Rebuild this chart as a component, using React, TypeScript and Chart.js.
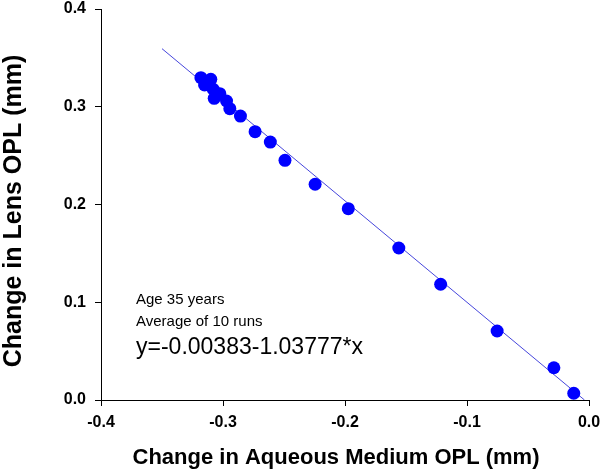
import React, { useEffect, useRef } from "react";
import { Chart, registerables } from "chart.js";

Chart.register(...registerables);

// Measured points: change in aqueous medium OPL (mm) vs change in lens OPL (mm)
const aqueousOPL = [
  -0.3181, -0.31, -0.3151, -0.308, -0.3026, -0.3072, -0.2971, -0.2944, -0.2857,
  -0.2737, -0.2612, -0.2492, -0.2245, -0.1973, -0.1559, -0.1216, -0.0753, -0.0288, -0.0125,
];
const lensOPL = [
  0.3297, 0.3281, 0.3223, 0.3179, 0.3134, 0.3086, 0.3059, 0.298, 0.2905,
  0.2745, 0.2639, 0.2452, 0.2207, 0.1957, 0.1555, 0.1184, 0.0706, 0.033, 0.0069,
];

// Fitted line endpoints (y = -0.00383 - 1.03777*x)
const fitX = [-0.35, -0.0037];
const fitY = [0.3594, 0.0];

const xTicks = [-0.4, -0.3, -0.2, -0.1, 0.0];
const yTicks = [0.0, 0.1, 0.2, 0.3, 0.4];

const notes = ["Age 35 years", "Average of 10 runs", "y=-0.00383-1.03777*x"];
const yTitle = "Change in Lens OPL (mm)";
const xTitle = "Change in Aqueous Medium OPL (mm)";

const FONT = '"Liberation Sans", Arial, sans-serif';

export default function App() {
  const ref = useRef<HTMLCanvasElement | null>(null);

  useEffect(() => {
    if (!ref.current) return;
    const notePlugin = {
      id: "notes",
      afterDraw(chart: any) {
        const ctx = chart.ctx;
        ctx.save();
        ctx.fillStyle = "#000";
        ctx.textAlign = "left";
        ctx.textBaseline = "middle";
        ctx.font = `15px ${FONT}`;
        ctx.fillText(notes[0], 136, 300);
        ctx.fillText(notes[1], 136, 322);
        ctx.font = `23px ${FONT}`;
        ctx.fillText(notes[2], 136, 348);
        // x-axis title
        ctx.textAlign = "center";
        ctx.font = `bold 22px ${FONT}`;
        ctx.fillText(xTitle, 336, 458);
        // y-axis title
        ctx.translate(14, 211);
        ctx.rotate(-Math.PI / 2);
        ctx.font = `bold 25px ${FONT}`;
        ctx.fillText(yTitle, 0, 0);
        ctx.restore();
      },
    };

    const chart = new Chart(ref.current, {
      type: "scatter",
      data: {
        datasets: [
          {
            label: "data",
            data: aqueousOPL.map((x, i) => ({ x, y: lensOPL[i] })),
            backgroundColor: "#0000ff",
            borderColor: "#0000ff",
            borderWidth: 0,
            pointRadius: 6.5,
            order: 0,
          },
          {
            label: "fit",
            type: "line",
            data: fitX.map((x, i) => ({ x, y: fitY[i] })),
            borderColor: "#4646dc",
            borderWidth: 1,
            pointRadius: 0,
            fill: false,
            order: 1,
          } as any,
        ],
      },
      options: {
        animation: false,
        responsive: false,
        maintainAspectRatio: false,
        layout: { padding: { top: 9, right: 11, left: 0, bottom: 0 } },
        plugins: { legend: { display: false }, tooltip: { enabled: false } },
        scales: {
          x: {
            type: "linear",
            min: -0.4,
            max: 0,
            afterBuildTicks: (s: any) => {
              s.ticks = xTicks.map((v) => ({ value: v }));
            },
            afterFit: (s: any) => {
              s.height = 71;
              s.paddingLeft = 0;
              s.paddingRight = 0;
            },
            ticks: {
              color: "#000",
              font: { family: FONT, size: 16, weight: "bold" },
              padding: 7,
              maxRotation: 0,
              callback: (v: any) => Number(v).toFixed(1),
            },
            grid: { drawOnChartArea: false, drawTicks: true, tickLength: 6, color: "#000", lineWidth: 1 },
            border: { display: true, color: "#000", width: 1 },
            title: { display: false },
          },
          y: {
            type: "linear",
            min: 0,
            max: 0.4,
            afterBuildTicks: (s: any) => {
              s.ticks = yTicks.map((v) => ({ value: v }));
            },
            afterFit: (s: any) => {
              s.width = 101;
              s.paddingTop = 0;
              s.paddingBottom = 0;
            },
            ticks: {
              color: "#000",
              font: { family: FONT, size: 16, weight: "bold" },
              padding: 9,
              callback: (v: any) => Number(v).toFixed(1),
            },
            grid: { drawOnChartArea: false, drawTicks: true, tickLength: 6, color: "#000", lineWidth: 1 },
            border: { display: true, color: "#000", width: 1 },
            title: { display: false },
          },
        },
      },
      plugins: [notePlugin],
    });
    return () => chart.destroy();
  }, []);

  return (
    <div style={{ position: "fixed", left: 0, top: 0, width: 600, height: 471, background: "#fff" }}>
      <canvas ref={ref} width={600} height={471} style={{ width: 600, height: 471, display: "block" }} />
    </div>
  );
}
